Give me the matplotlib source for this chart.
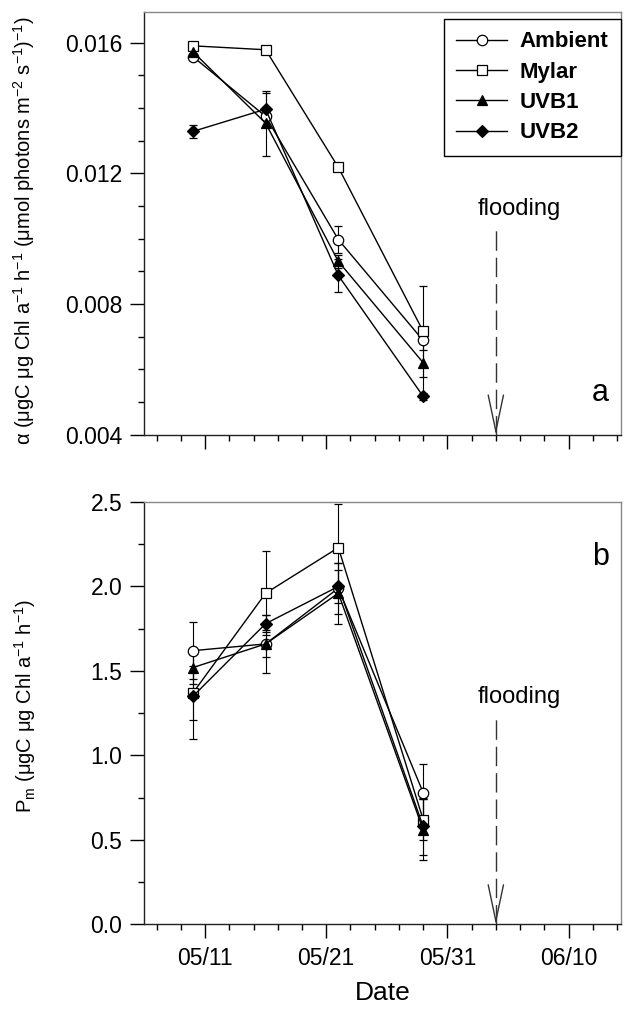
import datetime as dt
import numpy as np
import matplotlib
matplotlib.use("Agg")
import matplotlib.pyplot as plt
import matplotlib.dates as mdates
from matplotlib.lines import Line2D
from matplotlib.ticker import MultipleLocator, FixedLocator

plt.rcParams["font.family"] = "Liberation Sans"
plt.rcParams["mathtext.fontset"] = "custom"
plt.rcParams["mathtext.rm"] = "Liberation Sans"
plt.rcParams["mathtext.it"] = "Liberation Sans:italic"
plt.rcParams["mathtext.bf"] = "Liberation Sans:bold"

# --- data ----------------------------------------------------------------
year = 1999
sample_dates = ["05/10", "05/16", "05/22", "05/29"]
flood_date = "06/04"
major_dates = ["05/11", "05/21", "05/31", "06/10"]

treatments = ["Ambient", "Mylar", "UVB1", "UVB2"]

# panel a: alpha
alpha_ambient = [0.01557, 0.01374, 0.00997, 0.00688]
alpha_mylar = [0.01590, 0.01578, 0.01218, 0.00716]
alpha_uvb1 = [0.01572, 0.01353, 0.00930, 0.00620]
alpha_uvb2 = [0.01328, 0.01396, 0.00887, 0.00517]
alpha_err_ambient = [0.0001, 0.0003, 0.0004, 0.0003]
alpha_err_mylar = [0.0001, 0.0001, 0.0001, 0.0014]
alpha_err_uvb1 = [0.0001, 0.0010, 0.0002, 0.0010]
alpha_err_uvb2 = [0.0002, 0.0005, 0.0005, 0.0001]

# panel b: Pm
pm_ambient = [1.62, 1.66, 1.99, 0.78]
pm_mylar = [1.37, 1.96, 2.23, 0.62]
pm_uvb1 = [1.52, 1.66, 1.96, 0.56]
pm_uvb2 = [1.35, 1.78, 2.00, 0.58]
pm_err_ambient = [0.17, 0.17, 0.15, 0.17]
pm_err_mylar = [0.16, 0.25, 0.26, 0.12]
pm_err_uvb1 = [0.10, 0.08, 0.18, 0.18]
pm_err_uvb2 = [0.25, 0.05, 0.10, 0.17]


def to_num(s):
    return mdates.date2num(dt.datetime.strptime(f"{year}/{s}", "%Y/%m/%d"))


x = np.array([to_num(s) for s in sample_dates])
x_flood = to_num(flood_date)

styles = {
    "Ambient": dict(marker="o", mfc="white", ms=7.5),
    "Mylar": dict(marker="s", mfc="white", ms=6.5),
    "UVB1": dict(marker="^", mfc="black", ms=7.5),
    "UVB2": dict(marker="D", mfc="black", ms=6.5),
}

fig = plt.figure(figsize=(6.29, 10.21), dpi=100)
ax_a = fig.add_axes([0.2297, 0.5744, 0.757, 0.4143])
ax_b = fig.add_axes([0.2297, 0.0947, 0.757, 0.4136])

series_a = [alpha_ambient, alpha_mylar, alpha_uvb1, alpha_uvb2]
errs_a = [alpha_err_ambient, alpha_err_mylar, alpha_err_uvb1, alpha_err_uvb2]
series_b = [pm_ambient, pm_mylar, pm_uvb1, pm_uvb2]
errs_b = [pm_err_ambient, pm_err_mylar, pm_err_uvb1, pm_err_uvb2]

for ax, series, errs in [(ax_a, series_a, errs_a), (ax_b, series_b, errs_b)]:
    for name, y, e in zip(treatments, series, errs):
        ax.errorbar(x, y, yerr=e, color="black", lw=1.0, elinewidth=0.8,
                    capsize=3, capthick=0.8, mec="black", mew=0.9,
                    **styles[name])

# --- axes formatting -----------------------------------------------------
xmin = to_num("05/06")
xmax = to_num("06/14") + 0.3
minor = np.arange(to_num("05/07"), xmax, 2)
for ax in (ax_a, ax_b):
    ax.set_xlim(xmin, xmax)
    ax.xaxis.set_major_locator(FixedLocator([to_num(s) for s in major_dates]))
    ax.xaxis.set_minor_locator(FixedLocator(minor))
    ax.xaxis.set_major_formatter(mdates.DateFormatter("%m/%d"))
    ax.tick_params(which="major", direction="out", length=10, width=1,
                   labelsize=16.5, pad=6)
    ax.tick_params(which="minor", direction="out", length=4, width=1)
    for sp in ["left", "bottom"]:
        ax.spines[sp].set_linewidth(1.0)
        ax.spines[sp].set_color("#222222")
    for sp in ["top", "right"]:
        ax.spines[sp].set_linewidth(1.0)
        ax.spines[sp].set_color("#888888")

ax_a.set_ylim(0.004, 0.01695)
ax_a.yaxis.set_major_locator(FixedLocator([0.004, 0.008, 0.012, 0.016]))
ax_a.yaxis.set_minor_locator(MultipleLocator(0.001))
ax_a.yaxis.set_major_formatter(plt.FuncFormatter(lambda v, p: f"{v:.3f}"))
ax_a.tick_params(axis="x", labelbottom=False)
ax_a.set_ylabel("α (μgC μg Chl a$^{-1}$ h$^{-1}$ (μmol photons m$^{-2}$ s$^{-1}$)$^{-1}$)",
                fontsize=14.5)
ax_a.yaxis.set_label_coords(-0.226, 0.483)

ax_b.set_ylim(0, 2.5)
ax_b.yaxis.set_major_locator(MultipleLocator(0.5))
ax_b.yaxis.set_minor_locator(MultipleLocator(0.25))
ax_b.yaxis.set_major_formatter(plt.FuncFormatter(lambda v, p: f"{v:.1f}"))
ax_b.set_ylabel(r"P$_{\rm m}$ (μgC μg Chl a$^{-1}$ h$^{-1}$)", fontsize=14.5)
ax_b.yaxis.set_label_coords(-0.224, 0.518)
ax_b.set_xlabel("Date", fontsize=19, labelpad=8)

# --- flooding annotations ------------------------------------------------
for ax, y0, ytop, ytext in [(ax_a, 0.004, 0.01045, 0.01058),
                            (ax_b, 0.0, 1.25, 1.28)]:
    ax.text(x_flood + 1.9, ytext, "flooding", fontsize=17, ha="center", va="bottom")
    ax.plot([x_flood, x_flood], [y0, ytop], color="#333333", lw=1.0,
            ls=(0, (14, 5)), clip_on=False)
    ax.annotate("", xy=(x_flood, y0), xytext=(x_flood, y0 + (ytop - y0) * 0.02),
                arrowprops=dict(arrowstyle="->,head_length=2.6,head_width=0.55",
                                color="#333333", lw=1.0, shrinkA=0, shrinkB=0))

ax_a.text(0.975, 0.08, "a", transform=ax_a.transAxes, fontsize=22, ha="right")
ax_b.text(0.975, 0.85, "b", transform=ax_b.transAxes, fontsize=22, ha="right")

handles = [Line2D([], [], color="black", lw=1.0, mec="black", mew=0.9, **styles[n])
           for n in treatments]
leg = ax_a.legend(handles, treatments, loc="upper right",
                  bbox_to_anchor=(1.0, 0.982), borderaxespad=0, fancybox=False,
                  edgecolor="black", framealpha=1, handlelength=2.3,
                  prop=dict(weight="bold", size=16), labelspacing=0.42,
                  borderpad=0.55, handletextpad=0.55)
leg.get_frame().set_linewidth(1.0)

fig.savefig("out.png", dpi=100)
